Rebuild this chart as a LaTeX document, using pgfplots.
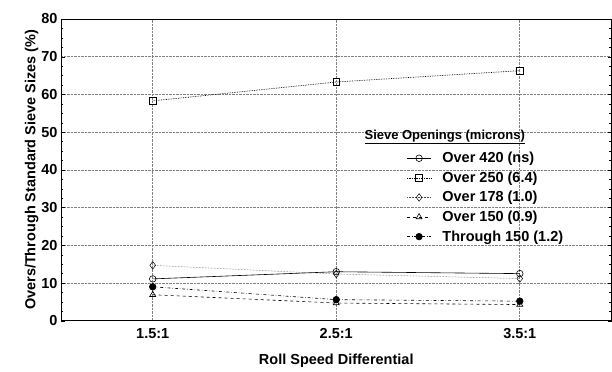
\documentclass[border=0pt]{standalone}
\usepackage{fontspec}
\setmainfont{Liberation Sans}
\usepackage{pgfplots}
\pgfplotsset{compat=1.18}
\begin{document}
\bfseries
\begin{tikzpicture}
\begin{axis}[
  scale only axis,
  width=551pt, height=302pt,
  xmin=0.5, xmax=3.5, ymin=0, ymax=80,
  xtick={1,2,3}, xticklabels={1.5:1,2.5:1,3.5:1},
  ytick={0,10,...,80},
  minor y tick num=3,
  /pgf/number format/assume math mode=true,
  tick label style={font=\fontsize{14.5}{17}\selectfont\bfseries},
  xticklabel style={yshift=-4pt},
  label style={font=\fontsize{14.5}{17}\selectfont\bfseries},
  xlabel={Roll Speed Differential},
  ylabel={Overs/Through Standard Sieve Sizes (\%)},
  xlabel style={yshift=-9pt},
  ylabel style={yshift=-4pt},
  xtick style={draw=none},
  ytick style={black, thin},
  major tick length=4pt, minor tick length=2.5pt,
  grid=major,
  major grid style={densely dotted, gray, line width=0.6pt},
  axis line style={black, line width=0.9pt},
  legend style={draw=none, fill=none, inner sep=0pt, outer sep=0pt,
    at={(rel axis cs:0.628,0.565)}, anchor=north west,
    font=\fontsize{14.5}{17}\selectfont\bfseries, row sep=3.6pt, cells={anchor=west}},
  legend image code/.code={\draw[mark repeat=2, mark phase=2, #1] plot coordinates {(0pt,0pt) (12pt,0pt) (24pt,0pt)};},
]
\addplot[black, line width=0.6pt, mark=o, mark size=3.3pt, mark options={solid, fill=white}]
  coordinates {(1,11.1) (2,13.0) (3,12.5)};
\addlegendentry{\hspace{9pt}Over 420 (ns)}
\addplot[black, densely dotted, line width=0.7pt, mark=square, mark size=3.3pt, mark options={solid, fill=white}]
  coordinates {(1,58.3) (2,63.3) (3,66.3)};
\addlegendentry{\hspace{9pt}Over 250 (6.4)}
\addplot[black!70, densely dotted, line width=0.5pt, mark=diamond, mark size=3.8pt, mark options={solid, black, fill=white}]
  coordinates {(1,14.7) (2,12.4) (3,11.2)};
\addlegendentry{\hspace{9pt}Over 178 (1.0)}
\addplot[black, dashed, line width=0.6pt, mark=triangle, mark size=3.5pt, mark options={solid, fill=white}]
  coordinates {(1,6.9) (2,4.7) (3,4.3)};
\addlegendentry{\hspace{9pt}Over 150 (0.9)}
\addplot[black, dashdotted, line width=0.6pt, mark=*, mark size=3.3pt, mark options={solid, fill=black}]
  coordinates {(1,9.0) (2,5.6) (3,5.2)};
\addlegendentry{\hspace{9pt}Through 150 (1.2)}
\node[font=\fontsize{13}{16}\selectfont\bfseries, inner sep=0pt] at (rel axis cs:0.697,0.61) {\underline{Sieve Openings (microns)}};
\end{axis}
\path (current axis.south west) ++(-61pt,-47pt) rectangle ++(612pt,368pt);
\end{tikzpicture}
\end{document}
